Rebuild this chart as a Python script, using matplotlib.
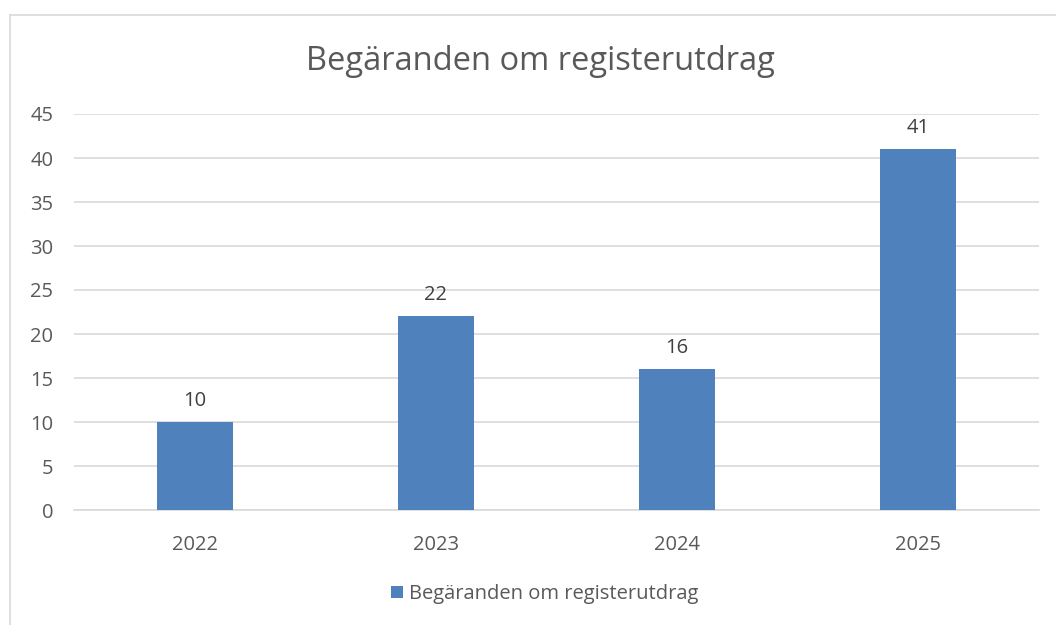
import matplotlib.pyplot as plt
from matplotlib.lines import Line2D
import numpy as np

years = ["2022", "2023", "2024", "2025"]
values = [10, 22, 16, 41]
series_name = "Begäranden om registerutdrag"
yticks = [0, 5, 10, 15, 20, 25, 30, 35, 40, 45]

plt.rcParams['font.family'] = ['Open Sans', 'DejaVu Sans']
txt = '#595959'
bar_color = '#4f81bd'

W, H = 1056, 625
fig = plt.figure(figsize=(W / 100, H / 100), dpi=100)
ax = fig.add_axes([74 / W, 1 - 510 / H, (1039 - 74) / W, (510 - 114) / H])

x = np.arange(len(years))
bars = ax.bar(x, values, width=0.315, color=bar_color, label=series_name, zorder=3)
for b, v in zip(bars, values):
    ax.text(b.get_x() + b.get_width() / 2, v + 1.3, str(v), ha='center', va='bottom',
            fontsize=14.5, color='#404040')

ax.set_xlim(-0.5, len(years) - 0.5)
ax.set_ylim(0, 45)
ax.set_yticks(yticks)
ax.set_xticks(x)
ax.set_xticklabels(years)
ax.tick_params(axis='both', length=0, labelsize=14.5, colors=txt)
ax.tick_params(axis='y', pad=15)
ax.tick_params(axis='x', pad=18)
ax.yaxis.grid(True, color='#d9d9d9', linewidth=1.2, zorder=0)
for s in ['top', 'right', 'left']:
    ax.spines[s].set_visible(False)
ax.spines['bottom'].set_color('#d9d9d9')
ax.spines['bottom'].set_linewidth(1.2)

fig.text(540 / W, 1 - 62 / H, "Begäranden om registerutdrag", ha='center', va='center',
         fontsize=23.5, color=txt)

leg = fig.legend(loc='center', bbox_to_anchor=(545 / W, 1 - 594 / H), frameon=False,
                 fontsize=14.5, handlelength=0.6, handleheight=0.6, handletextpad=0.3)
for t in leg.get_texts():
    t.set_color(txt)

fig.add_artist(Line2D([10 / W, 10 / W], [0, 1 - 15 / H], transform=fig.transFigure,
                      color='#d9d9d9', linewidth=1.2))
fig.add_artist(Line2D([10 / W, 1], [1 - 15 / H, 1 - 15 / H], transform=fig.transFigure,
                      color='#d9d9d9', linewidth=1.2))

fig.savefig('out.png', dpi=100, facecolor='white')
